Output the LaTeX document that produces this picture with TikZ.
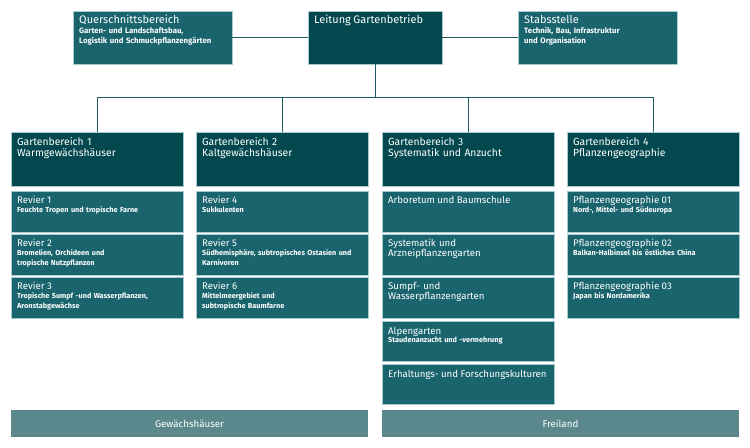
\documentclass[tikz,border=0pt]{standalone}
\usepackage{fontspec}
\setmainfont{Fira Sans}
\definecolor{dark}{HTML}{03484E}
\definecolor{mid}{HTML}{19646D}
\definecolor{bar}{HTML}{5A888C}
\definecolor{edge}{HTML}{A7CBD0}
\definecolor{conn}{HTML}{1F5B63}
\newcommand\tf{\mdseries\fontsize{9.7}{10}\selectfont}
\newcommand\bigtf{\mdseries\fontsize{11}{10}\selectfont}
\newcommand\hf{\mdseries\fontsize{10.4}{11}\selectfont}
\newcommand\orgbox[6]{\node[basebox,fill=#6,minimum width=#4 bp,minimum height=#5 bp] (#1) at (#2,#3) {};}
\begin{document}
\begin{tikzpicture}[x=1bp,y=-1bp,
  basebox/.style={draw=edge,line width=0.6bp,inner sep=0pt,outer sep=0pt,anchor=north west,rectangle},
  txt/.style={anchor=base west,inner sep=0pt,text=white,align=left,text width=166bp,
    font=\fontsize{7.3}{10}\selectfont\bfseries},
  toptxt/.style={txt,font=\fontsize{7.8}{10}\selectfont\bfseries},
  bartxt/.style={text=white,inner sep=0pt,font=\mdseries\fontsize{9.8}{11}\selectfont},
  link/.style={draw=conn,line width=1bp}]
\useasboundingbox (0,0) rectangle (750,448);
% top row
\orgbox{quer}{73}{11}{159}{53}{mid}
\orgbox{leit}{308}{11}{134}{53}{dark}
\orgbox{stab}{518}{11}{159}{53}{mid}
\node[toptxt] (quert) at ([xshift=6bp,yshift=-13bp]quer.north west) {{\bigtf Querschnittsbereich}\\Garten- und Landschaftsbau,\\Logistik und Schmuckpflanzengärten};
\node[toptxt] (leitt) at ([xshift=6bp,yshift=-13bp]leit.north west) {{\bigtf Leitung Gartenbetrieb}};
\node[toptxt] (stabt) at ([xshift=6bp,yshift=-13bp]stab.north west) {{\bigtf Stabsstelle}\\Technik, Bau, Infrastruktur\\und Organisation};
% Gartenbereiche
\orgbox{gba}{11}{132}{172}{54}{dark}
\orgbox{gbb}{196}{132}{172}{54}{dark}
\orgbox{gbc}{382}{132}{172}{54}{dark}
\orgbox{gbd}{567}{132}{172}{54}{dark}
\node[txt,font=\hf] (gbat) at ([xshift=6bp,yshift=-14bp]gba.north west) {Gartenbereich 1\\Warmgewächshäuser};
\node[txt,font=\hf] (gbbt) at ([xshift=6bp,yshift=-14bp]gbb.north west) {Gartenbereich 2\\Kaltgewächshäuser};
\node[txt,font=\hf] (gbct) at ([xshift=6bp,yshift=-14bp]gbc.north west) {Gartenbereich 3\\Systematik und Anzucht};
\node[txt,font=\hf] (gbdt) at ([xshift=6bp,yshift=-14bp]gbd.north west) {Gartenbereich 4\\Pflanzengeographie};
% column 1
\orgbox{ra}{11}{191}{172}{41}{mid}
\orgbox{rb}{11}{234}{172}{41}{mid}
\orgbox{rc}{11}{277}{172}{41}{mid}
\node[txt] (rat) at ([xshift=6bp,yshift=-13bp]ra.north west) {{\tf Revier 1}\\[-1bp]Feuchte Tropen und tropische Farne};
\node[txt] (rbt) at ([xshift=6bp,yshift=-13bp]rb.north west) {{\tf Revier 2}\\[-1bp]Bromelien, Orchideen und\\tropische Nutzpflanzen};
\node[txt] (rct) at ([xshift=6bp,yshift=-13bp]rc.north west) {{\tf Revier 3}\\[-1bp]Tropische Sumpf -und Wasserpflanzen,\\Aronstabgewächse};
% column 2
\orgbox{rd}{196}{191}{172}{41}{mid}
\orgbox{re}{196}{234}{172}{41}{mid}
\orgbox{rf}{196}{277}{172}{41}{mid}
\node[txt] (rdt) at ([xshift=6bp,yshift=-13bp]rd.north west) {{\tf Revier 4}\\[-1bp]Sukkulenten};
\node[txt] (ret) at ([xshift=6bp,yshift=-13bp]re.north west) {{\tf Revier 5}\\[-1bp]Südhemisphäre, subtropisches Ostasien und\\Karnivoren};
\node[txt] (rft) at ([xshift=6bp,yshift=-13bp]rf.north west) {{\tf Revier 6}\\[-1bp]Mittelmeergebiet und\\subtropische Baumfarne};
% column 3
\orgbox{sa}{382}{191}{172}{41}{mid}
\orgbox{sb}{382}{234}{172}{41}{mid}
\orgbox{sc}{382}{277}{172}{41}{mid}
\orgbox{sd}{382}{321}{172}{40}{mid}
\orgbox{se}{382}{364}{172}{40}{mid}
\node[txt] (sat) at ([xshift=6bp,yshift=-13bp]sa.north west) {{\tf Arboretum und Baumschule}};
\node[txt,font=\tf] (sbt) at ([xshift=6bp,yshift=-13bp]sb.north west) {Systematik und\\[-0.5bp]Arzneipflanzengarten};
\node[txt,font=\tf] (sct) at ([xshift=6bp,yshift=-13bp]sc.north west) {Sumpf- und\\[-0.5bp]Wasserpflanzengarten};
\node[txt] (sdt) at ([xshift=6bp,yshift=-13bp]sd.north west) {{\tf Alpengarten}\\[-1bp]Staudenanzucht und -vermehrung};
\node[txt] (set) at ([xshift=6bp,yshift=-13bp]se.north west) {{\tf Erhaltungs- und Forschungskulturen}};
% column 4
\orgbox{pa}{567}{191}{172}{41}{mid}
\orgbox{pb}{567}{234}{172}{41}{mid}
\orgbox{pc}{567}{277}{172}{41}{mid}
\node[txt] (pat) at ([xshift=6bp,yshift=-13bp]pa.north west) {{\tf Pflanzengeographie 01}\\[-1bp]Nord-, Mittel- und Südeuropa};
\node[txt] (pbt) at ([xshift=6bp,yshift=-13bp]pb.north west) {{\tf Pflanzengeographie 02}\\[-1bp]Balkan-Halbinsel bis östliches China};
\node[txt] (pct) at ([xshift=6bp,yshift=-13bp]pc.north west) {{\tf Pflanzengeographie 03}\\[-1bp]Japan bis Nordamerika};
% bottom bars
\node[basebox,draw=none,fill=bar,minimum width=357bp,minimum height=27bp] (gew) at (11,410) {};
\node[basebox,draw=none,fill=bar,minimum width=357bp,minimum height=27bp] (frei) at (382,410) {};
\node[bartxt] (gewt) at (gew.center) {Gewächshäuser};
\node[bartxt] (freit) at (frei.center) {Freiland};
% connectors
\coordinate (bus) at (0,98);
\draw[link] (quer.east) -- (leit.west);
\draw[link] (leit.east) -- (stab.west);
\draw[link] (leit.south) -- (leit.south |- bus);
\draw[link] (gba.north) |- (bus -| gbd.north) -- (gbd.north);
\draw[link] (gbb.north) -- (gbb.north |- bus);
\draw[link] (gbc.north) -- (gbc.north |- bus);
\end{tikzpicture}
\end{document}
